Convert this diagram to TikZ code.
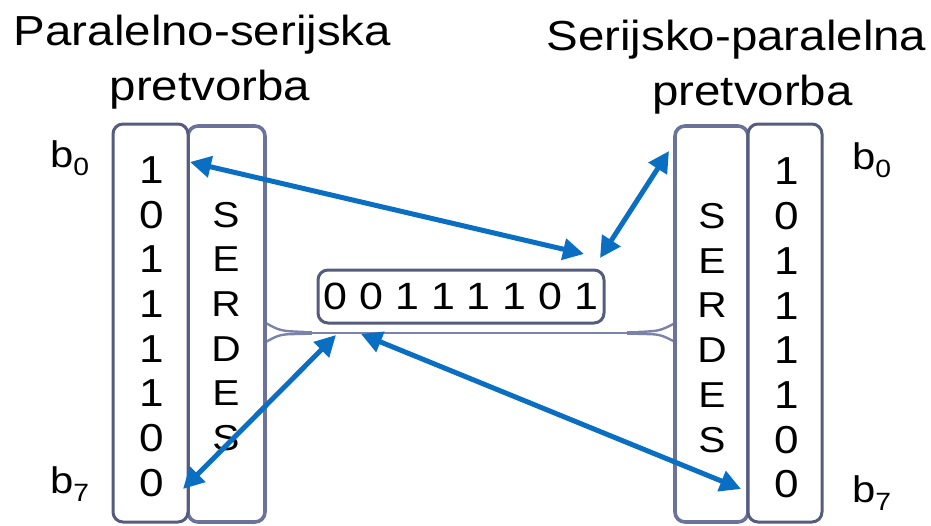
\documentclass[tikz,border=0pt]{standalone}
\usepackage{fontspec}
\setmainfont{Liberation Sans}[FakeStretch=1.13]
\usetikzlibrary{arrows.meta}
\definecolor{boxdark}{HTML}{565C7C}
\definecolor{boxlight}{HTML}{6B739A}
\definecolor{cable}{HTML}{7B83AB}
\definecolor{arrowblue}{HTML}{0A6FC2}
\tikzset{
  bitbox/.style={draw=boxdark, line width=3pt, rounded corners=10pt, fill=white},
  serbox/.style={draw=boxlight, line width=3.6pt, rounded corners=10pt, fill=white},
  bitdigit/.style={inner sep=0pt, font=\fontsize{39}{40}\selectfont},
  serletter/.style={inner sep=0pt, font=\fontsize{36}{37}\selectfont},
  title/.style={inner sep=0pt, anchor=base, font=\fontsize{42}{44}\selectfont},
  blabel/.style={inner sep=0pt, anchor=base west, font=\fontsize{37}{40}\selectfont},
  dbl/.style={draw=arrowblue, line width=5pt, {Triangle[length=21pt,width=21pt]}-{Triangle[length=21pt,width=21pt]}},
  cableline/.style={draw=cable, line width=1.8pt},
  flare/.style={draw=cable, line width=2.4pt},
}
\newcommand{\bsub}[1]{b\raisebox{-8pt}{\fontsize{25}{26}\selectfont #1}}
\begin{document}
\begin{tikzpicture}[x=1pt,y=-1pt]
\useasboundingbox (0,0) rectangle (931,525);

% titles
\node[title] (tl1) at (202.5,45) {Paralelno-serijska};
\node[title] (tl2) at (210,100) {pretvorba};
\node[title] (tr1) at (736.5,50) {Serijsko-paralelna};
\node[title] (tr2) at (752.5,105) {pretvorba};

% cable between SERDES boxes
\draw[cableline] (300,333) -- (642,333);
\draw[draw=cable, line width=4pt] (300,332.5) -- (312,332.5);
\draw[draw=cable, line width=4pt] (627,332.5) -- (641,332.5);
\draw[flare] (264,322) .. controls (280,331) .. (305,332);
\draw[flare] (264,343) .. controls (280,334) .. (305,334);
\draw[flare] (677,322) .. controls (660,331) .. (638,332);
\draw[flare] (677,343) .. controls (660,334) .. (638,334);

% left boxes
\node[serbox, minimum width=77pt, minimum height=396pt] (lser) at (226.5,324) {};
\node[bitbox, minimum width=75pt, minimum height=398pt] (lbit) at (150.5,323) {};
% right boxes
\node[serbox, minimum width=73pt, minimum height=396pt] (rser) at (711.5,324) {};
\node[bitbox, minimum width=74pt, minimum height=398pt] (rbit) at (785,323) {};

% bits and letters
\foreach \b [count=\i from 0] in {1,0,1,1,1,1,0,0} {
  \node[bitdigit] (lb\i) at (152,170+44.7*\i) {\b};
  \node[bitdigit] (rb\i) at (787,171.5+44.7*\i) {\b};
}
\foreach \l [count=\i from 1] in {S,E,R,D,E,S} {
  \node[serletter] (ls\i) at (226,170+44.7*\i) {\l};
  \node[serletter] (rs\i) at (712,171.5+44.7*\i) {\l};
}

% serial word
\node[draw=boxdark, line width=3pt, rounded corners=10pt, fill=white,
      minimum width=286pt, minimum height=53pt, inner sep=0pt,
      font=\fontsize{38}{40}\selectfont] (word) at (461,296.5) {0 0 1 1 1 1 0 1};

% b labels
\node[blabel] (lb0lab) at (50,167) {\bsub{0}};
\node[blabel] (lb7lab) at (50,493) {\bsub{7}};
\node[blabel] (rb0lab) at (852,169) {\bsub{0}};
\node[blabel] (rb7lab) at (852,502) {\bsub{7}};

% arrow end points
\coordinate (a1s) at (190,162);
\coordinate (a1e) at (584,254);
\coordinate (a2s) at (600,258);
\coordinate (a2e) at (669,151);
\coordinate (a3s) at (336,335);
\coordinate (a3e) at (183,489);
\coordinate (a4s) at (361,334);
\coordinate (a4e) at (741,489);
\draw[dbl] (a1s) -- (a1e);
\draw[dbl] (a2s) -- (a2e);
\draw[dbl] (a3s) -- (a3e);
\draw[dbl] (a4s) -- (a4e);
\end{tikzpicture}
\end{document}
